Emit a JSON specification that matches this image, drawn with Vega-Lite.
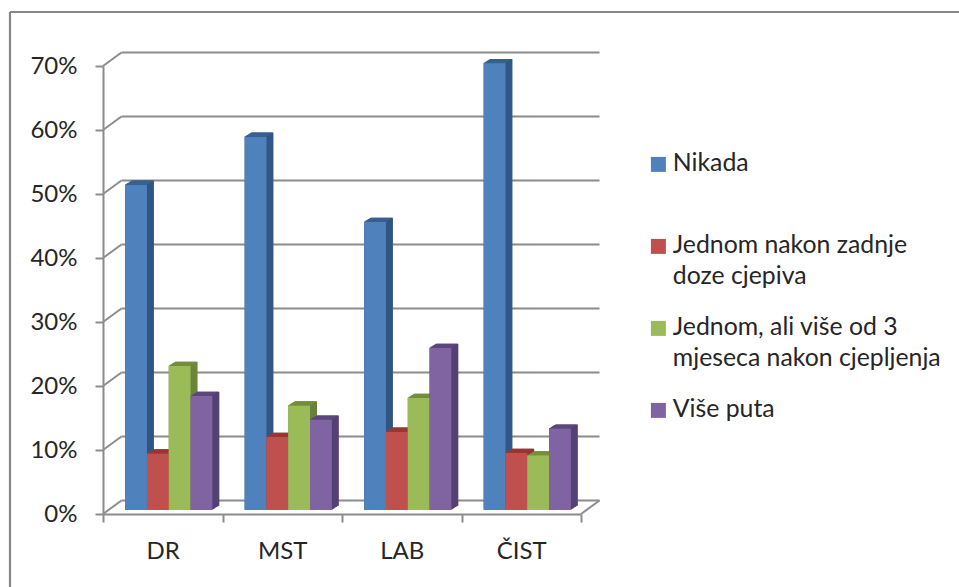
{"$schema":"https://vega.github.io/schema/vega-lite/v6.json","width":949,"height":575,"padding":{"left":10,"top":12,"right":0,"bottom":0},"autosize":{"type":"none"},"background":"white","config":{"view":{"stroke":null},"font":"Lato"},"datasets":{"bars":[{"cat":"DR","s":"Nikada","v":0.508},{"cat":"DR","s":"Jednom nakon zadnje doze cjepiva","v":0.088},{"cat":"DR","s":"Jednom, ali više od 3 mjeseca nakon cjepljenja","v":0.225},{"cat":"DR","s":"Više puta","v":0.178},{"cat":"MST","s":"Nikada","v":0.583},{"cat":"MST","s":"Jednom nakon zadnje doze cjepiva","v":0.114},{"cat":"MST","s":"Jednom, ali više od 3 mjeseca nakon cjepljenja","v":0.163},{"cat":"MST","s":"Više puta","v":0.141},{"cat":"LAB","s":"Nikada","v":0.45},{"cat":"LAB","s":"Jednom nakon zadnje doze cjepiva","v":0.122},{"cat":"LAB","s":"Jednom, ali više od 3 mjeseca nakon cjepljenja","v":0.175},{"cat":"LAB","s":"Više puta","v":0.253},{"cat":"ČIST","s":"Nikada","v":0.698},{"cat":"ČIST","s":"Jednom nakon zadnje doze cjepiva","v":0.089},{"cat":"ČIST","s":"Jednom, ali više od 3 mjeseca nakon cjepljenja","v":0.085},{"cat":"ČIST","s":"Više puta","v":0.127}],"levels":[{"level":0},{"level":0.1},{"level":0.2},{"level":0.3},{"level":0.4},{"level":0.5},{"level":0.6},{"level":0.7}],"floor":[{"level":0}],"frame":[{"side":0}]},"resolve":{"scale":{"x":"independent","y":"independent","color":"independent"}},"layer":[{"data":{"name":"frame"},"mark":{"type":"rule","color":"#868686","strokeWidth":2.2},"encoding":{"x":{"field":"side","type":"quantitative","scale":{"domain":[0,1]},"axis":null}}},{"data":{"name":"frame"},"mark":{"type":"rule","color":"#868686","strokeWidth":2.2},"encoding":{"y":{"field":"side","type":"quantitative","scale":{"domain":[1,0]},"axis":null}}},{"data":{"name":"levels"},"mark":{"type":"rule","color":"#8C8C8C","strokeWidth":2,"xOffset":18.5,"x2Offset":18.5,"yOffset":-13.5},"encoding":{"x":{"datum":0,"type":"quantitative","scale":{"domain":[0,4],"range":[93,571]},"axis":null},"x2":{"datum":4},"y":{"field":"level","type":"quantitative","scale":{"domain":[0,0.7],"range":[502,54]},"axis":null}}},{"data":{"name":"levels"},"mark":{"type":"rule","color":"#8C8C8C","strokeWidth":2,"x2Offset":18.5,"y2Offset":-13.5},"encoding":{"x":{"datum":0,"type":"quantitative","scale":{"domain":[0,4],"range":[93,571]},"axis":null},"x2":{"datum":0},"y":{"field":"level","type":"quantitative","scale":{"domain":[0,0.7],"range":[502,54]},"axis":null},"y2":{"field":"level"}}},{"data":{"name":"floor"},"mark":{"type":"rule","color":"#8C8C8C","strokeWidth":2,"x2Offset":18.5,"y2Offset":-13.5},"encoding":{"x":{"datum":4,"type":"quantitative","scale":{"domain":[0,4],"range":[93,571]},"axis":null},"x2":{"datum":4},"y":{"field":"level","type":"quantitative","scale":{"domain":[0,0.7],"range":[502,54]},"axis":null},"y2":{"field":"level"}}},{"data":{"name":"bars"},"mark":{"type":"rule","opacity":0},"encoding":{"x":{"field":"cat","type":"nominal","sort":["DR","MST","LAB","ČIST"],"title":null,"scale":{"range":[93,571],"paddingInner":0,"paddingOuter":0},"axis":{"orient":"bottom","offset":-73,"domainColor":"#8C8C8C","domainWidth":2,"tickColor":"#8C8C8C","tickWidth":2,"tickSize":8,"tickBand":"extent","labelAngle":0,"labelFont":"Lato","labelFontSize":24,"labelColor":"#262626","labelPadding":17,"grid":false}}}},{"data":{"name":"bars"},"encoding":{"x":{"field":"cat","type":"nominal","sort":["DR","MST","LAB","ČIST"],"title":null,"scale":{"range":[93,571],"paddingInner":0.27,"paddingOuter":0.135},"axis":null},"y":{"field":"v","type":"quantitative","stack":null,"title":null,"scale":{"domain":[0,0.7],"range":[502,54]},"axis":{"orient":"left","offset":-93,"values":[0,0.1,0.2,0.3,0.4,0.5,0.6,0.7],"format":".0%","domainColor":"#8C8C8C","domainWidth":2,"tickColor":"#8C8C8C","tickWidth":2,"tickSize":8,"labelFont":"Lato","labelFontSize":24,"labelColor":"#262626","labelPadding":18,"grid":false}},"y2":{"datum":0}},"resolve":{"scale":{"color":"independent","xOffset":"independent"}},"layer":[
{"mark":{"type":"bar","yOffset":-8.34,"y2Offset":-8.34},"encoding":{"xOffset":{"field":"s","type":"nominal","sort":null,"scale":{"domain":["Nikada","Jednom nakon zadnje doze cjepiva","Jednom, ali više od 3 mjeseca nakon cjepljenja","Više puta"],"range":[13,100.2],"paddingInner":0,"paddingOuter":0}},"color":{"field":"s","type":"nominal","legend":null,"scale":{"domain":["Nikada","Jednom nakon zadnje doze cjepiva","Jednom, ali više od 3 mjeseca nakon cjepljenja","Više puta"],"range":["#2F5580","#8C3432","#69823A","#533F70"]}}}},
{"mark":{"type":"bar","yOffset":-8.34,"y2Offset":-8.34},"encoding":{"xOffset":{"field":"s","type":"nominal","sort":null,"scale":{"domain":["Nikada","Jednom nakon zadnje doze cjepiva","Jednom, ali više od 3 mjeseca nakon cjepljenja","Više puta"],"range":[12,99.2],"paddingInner":0,"paddingOuter":0}},"color":{"field":"s","type":"nominal","legend":null,"scale":{"domain":["Nikada","Jednom nakon zadnje doze cjepiva","Jednom, ali više od 3 mjeseca nakon cjepljenja","Više puta"],"range":["#3A6595","#9A3835","#76923E","#5F4A80"]}}}},
{"mark":{"type":"bar","yOffset":-7.72,"y2Offset":-7.72},"encoding":{"xOffset":{"field":"s","type":"nominal","sort":null,"scale":{"domain":["Nikada","Jednom nakon zadnje doze cjepiva","Jednom, ali više od 3 mjeseca nakon cjepljenja","Više puta"],"range":[12,99.2],"paddingInner":0,"paddingOuter":0}},"color":{"field":"s","type":"nominal","legend":null,"scale":{"domain":["Nikada","Jednom nakon zadnje doze cjepiva","Jednom, ali više od 3 mjeseca nakon cjepljenja","Više puta"],"range":["#2F5580","#8C3432","#69823A","#533F70"]}}}},
{"mark":{"type":"bar","yOffset":-7.72,"y2Offset":-7.72},"encoding":{"xOffset":{"field":"s","type":"nominal","sort":null,"scale":{"domain":["Nikada","Jednom nakon zadnje doze cjepiva","Jednom, ali više od 3 mjeseca nakon cjepljenja","Više puta"],"range":[11,98.2],"paddingInner":0,"paddingOuter":0}},"color":{"field":"s","type":"nominal","legend":null,"scale":{"domain":["Nikada","Jednom nakon zadnje doze cjepiva","Jednom, ali više od 3 mjeseca nakon cjepljenja","Više puta"],"range":["#3A6595","#9A3835","#76923E","#5F4A80"]}}}},
{"mark":{"type":"bar","yOffset":-7.1,"y2Offset":-7.1},"encoding":{"xOffset":{"field":"s","type":"nominal","sort":null,"scale":{"domain":["Nikada","Jednom nakon zadnje doze cjepiva","Jednom, ali više od 3 mjeseca nakon cjepljenja","Više puta"],"range":[11,98.2],"paddingInner":0,"paddingOuter":0}},"color":{"field":"s","type":"nominal","legend":null,"scale":{"domain":["Nikada","Jednom nakon zadnje doze cjepiva","Jednom, ali više od 3 mjeseca nakon cjepljenja","Više puta"],"range":["#2F5580","#8C3432","#69823A","#533F70"]}}}},
{"mark":{"type":"bar","yOffset":-7.1,"y2Offset":-7.1},"encoding":{"xOffset":{"field":"s","type":"nominal","sort":null,"scale":{"domain":["Nikada","Jednom nakon zadnje doze cjepiva","Jednom, ali više od 3 mjeseca nakon cjepljenja","Više puta"],"range":[10,97.2],"paddingInner":0,"paddingOuter":0}},"color":{"field":"s","type":"nominal","legend":null,"scale":{"domain":["Nikada","Jednom nakon zadnje doze cjepiva","Jednom, ali više od 3 mjeseca nakon cjepljenja","Više puta"],"range":["#3A6595","#9A3835","#76923E","#5F4A80"]}}}},
{"mark":{"type":"bar","yOffset":-6.48,"y2Offset":-6.48},"encoding":{"xOffset":{"field":"s","type":"nominal","sort":null,"scale":{"domain":["Nikada","Jednom nakon zadnje doze cjepiva","Jednom, ali više od 3 mjeseca nakon cjepljenja","Više puta"],"range":[10,97.2],"paddingInner":0,"paddingOuter":0}},"color":{"field":"s","type":"nominal","legend":null,"scale":{"domain":["Nikada","Jednom nakon zadnje doze cjepiva","Jednom, ali više od 3 mjeseca nakon cjepljenja","Više puta"],"range":["#2F5580","#8C3432","#69823A","#533F70"]}}}},
{"mark":{"type":"bar","yOffset":-6.48,"y2Offset":-6.48},"encoding":{"xOffset":{"field":"s","type":"nominal","sort":null,"scale":{"domain":["Nikada","Jednom nakon zadnje doze cjepiva","Jednom, ali više od 3 mjeseca nakon cjepljenja","Više puta"],"range":[9,96.2],"paddingInner":0,"paddingOuter":0}},"color":{"field":"s","type":"nominal","legend":null,"scale":{"domain":["Nikada","Jednom nakon zadnje doze cjepiva","Jednom, ali više od 3 mjeseca nakon cjepljenja","Više puta"],"range":["#3A6595","#9A3835","#76923E","#5F4A80"]}}}},
{"mark":{"type":"bar","yOffset":-5.86,"y2Offset":-5.86},"encoding":{"xOffset":{"field":"s","type":"nominal","sort":null,"scale":{"domain":["Nikada","Jednom nakon zadnje doze cjepiva","Jednom, ali više od 3 mjeseca nakon cjepljenja","Više puta"],"range":[9,96.2],"paddingInner":0,"paddingOuter":0}},"color":{"field":"s","type":"nominal","legend":null,"scale":{"domain":["Nikada","Jednom nakon zadnje doze cjepiva","Jednom, ali više od 3 mjeseca nakon cjepljenja","Više puta"],"range":["#2F5580","#8C3432","#69823A","#533F70"]}}}},
{"mark":{"type":"bar","yOffset":-5.86,"y2Offset":-5.86},"encoding":{"xOffset":{"field":"s","type":"nominal","sort":null,"scale":{"domain":["Nikada","Jednom nakon zadnje doze cjepiva","Jednom, ali više od 3 mjeseca nakon cjepljenja","Više puta"],"range":[8,95.2],"paddingInner":0,"paddingOuter":0}},"color":{"field":"s","type":"nominal","legend":null,"scale":{"domain":["Nikada","Jednom nakon zadnje doze cjepiva","Jednom, ali više od 3 mjeseca nakon cjepljenja","Više puta"],"range":["#3A6595","#9A3835","#76923E","#5F4A80"]}}}},
{"mark":{"type":"bar","yOffset":-5.24,"y2Offset":-5.24},"encoding":{"xOffset":{"field":"s","type":"nominal","sort":null,"scale":{"domain":["Nikada","Jednom nakon zadnje doze cjepiva","Jednom, ali više od 3 mjeseca nakon cjepljenja","Više puta"],"range":[8,95.2],"paddingInner":0,"paddingOuter":0}},"color":{"field":"s","type":"nominal","legend":null,"scale":{"domain":["Nikada","Jednom nakon zadnje doze cjepiva","Jednom, ali više od 3 mjeseca nakon cjepljenja","Više puta"],"range":["#2F5580","#8C3432","#69823A","#533F70"]}}}},
{"mark":{"type":"bar","yOffset":-5.24,"y2Offset":-5.24},"encoding":{"xOffset":{"field":"s","type":"nominal","sort":null,"scale":{"domain":["Nikada","Jednom nakon zadnje doze cjepiva","Jednom, ali više od 3 mjeseca nakon cjepljenja","Više puta"],"range":[7,94.2],"paddingInner":0,"paddingOuter":0}},"color":{"field":"s","type":"nominal","legend":null,"scale":{"domain":["Nikada","Jednom nakon zadnje doze cjepiva","Jednom, ali više od 3 mjeseca nakon cjepljenja","Više puta"],"range":["#3A6595","#9A3835","#76923E","#5F4A80"]}}}},
{"mark":{"type":"bar","yOffset":-4.62,"y2Offset":-4.62},"encoding":{"xOffset":{"field":"s","type":"nominal","sort":null,"scale":{"domain":["Nikada","Jednom nakon zadnje doze cjepiva","Jednom, ali više od 3 mjeseca nakon cjepljenja","Više puta"],"range":[7,94.2],"paddingInner":0,"paddingOuter":0}},"color":{"field":"s","type":"nominal","legend":null,"scale":{"domain":["Nikada","Jednom nakon zadnje doze cjepiva","Jednom, ali više od 3 mjeseca nakon cjepljenja","Više puta"],"range":["#2F5580","#8C3432","#69823A","#533F70"]}}}},
{"mark":{"type":"bar","yOffset":-4.62,"y2Offset":-4.62},"encoding":{"xOffset":{"field":"s","type":"nominal","sort":null,"scale":{"domain":["Nikada","Jednom nakon zadnje doze cjepiva","Jednom, ali više od 3 mjeseca nakon cjepljenja","Više puta"],"range":[6,93.2],"paddingInner":0,"paddingOuter":0}},"color":{"field":"s","type":"nominal","legend":null,"scale":{"domain":["Nikada","Jednom nakon zadnje doze cjepiva","Jednom, ali više od 3 mjeseca nakon cjepljenja","Više puta"],"range":["#3A6595","#9A3835","#76923E","#5F4A80"]}}}},
{"mark":{"type":"bar","yOffset":-4,"y2Offset":-4},"encoding":{"xOffset":{"field":"s","type":"nominal","sort":null,"scale":{"domain":["Nikada","Jednom nakon zadnje doze cjepiva","Jednom, ali više od 3 mjeseca nakon cjepljenja","Više puta"],"range":[6,93.2],"paddingInner":0,"paddingOuter":0}},"color":{"field":"s","type":"nominal","scale":{"domain":["Nikada","Jednom nakon zadnje doze cjepiva","Jednom, ali više od 3 mjeseca nakon cjepljenja","Više puta"],"range":["#4F81BD","#C0504D","#9BBB59","#8064A2"]},"legend":{"orient":"none","legendX":636,"legendY":140,"title":null,"symbolType":"square","symbolSize":225,"symbolStrokeWidth":0,"labelFont":"Lato","labelFontSize":24.8,"labelColor":"#262626","labelOffset":2,"labelLimit":400,"rowPadding":25,"encode":{"labels":{"update":{"lineHeight":{"value":31}}}},"labelExpr":"datum.label=='Nikada'?['Nikada','']:datum.label=='Više puta'?['Više puta','']:datum.label[6]==','?['Jednom, ali više od 3','mjeseca nakon cjepljenja']:['Jednom nakon zadnje','doze cjepiva']"}}}}
]}]}
